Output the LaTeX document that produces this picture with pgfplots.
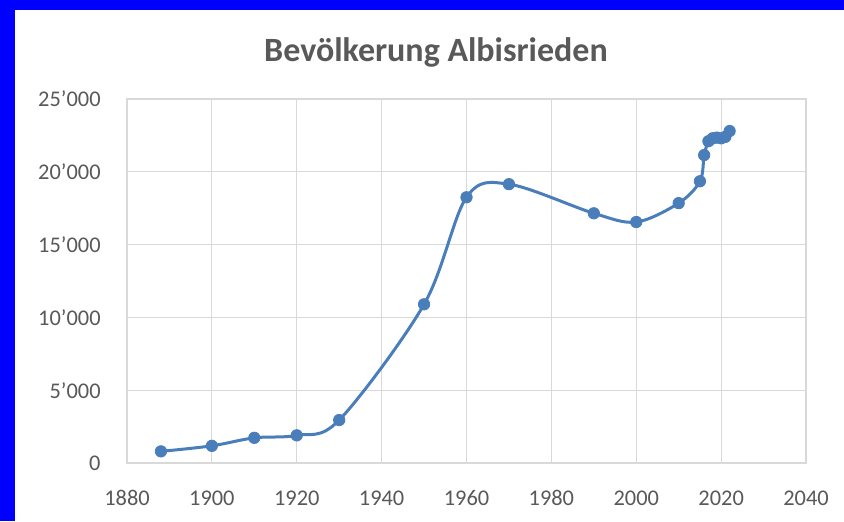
\documentclass[border=0pt]{standalone}
\usepackage{pgfplots}
\pgfplotsset{compat=1.18}
\usepackage{fontspec}
\setmainfont{Carlito}
\definecolor{txt}{RGB}{89,89,89}
\definecolor{grd}{RGB}{217,217,217}
\definecolor{ser}{RGB}{74,126,187}
\pgfplotstableread{
year pop
1888 800
1900 1180
1910 1730
1920 1900
1930 2950
1950 10900
1960 18250
1970 19150
1990 17150
2000 16550
2010 17850
2015 19350
2016 21150
2017 22100
2018 22300
2019 22350
2020 22300
2021 22400
2022 22800
}\popdata
\begin{document}
\begin{tikzpicture}[x=1pt,y=1pt]
\useasboundingbox (0,0) rectangle (422,260.5);
\fill[white] (0,0) rectangle (422,260.5);
\fill[blue] (0,255.5) rectangle (422,260.5);
\fill[blue] (0,0) rectangle (7.5,260.5);
\node[font=\bfseries\fontsize{17}{20}\selectfont, text=txt, anchor=base, inner sep=0pt] at (218,230) {Bevölkerung Albisrieden};
\begin{axis}[
  scale only axis, width=339.5pt, height=182pt,
  at={(63.5pt,29pt)}, anchor=south west,
  xmin=1880, xmax=2040, ymin=0, ymax=25000,
  xtick={1880,1900,...,2040}, ytick={0,5000,...,25000},
  yticklabels={0,5’000,10’000,15’000,20’000,25’000},
  scaled y ticks=false, scaled x ticks=false,
  /pgf/number format/assume math mode=true,
  /pgf/number format/1000 sep={},
  grid=major, grid style={draw=grd, line width=0.6pt},
  axis line style={draw=grd, line width=0.6pt},
  major tick length=0pt,
  tick label style={font=\fontsize{11.2}{13}\selectfont, text=txt, inner sep=0pt},
  xticklabel style={anchor=center, yshift=-17.5pt},
  yticklabel style={anchor=east, xshift=-13pt},
  clip=false,
]
\addplot[ser, line width=1.5pt, smooth, tension=0.55, mark=*, mark size=2.85pt,
  mark options={fill=ser, draw=ser, line width=0.4pt}] table[x=year, y=pop] {\popdata};
\end{axis}
\end{tikzpicture}
\end{document}
